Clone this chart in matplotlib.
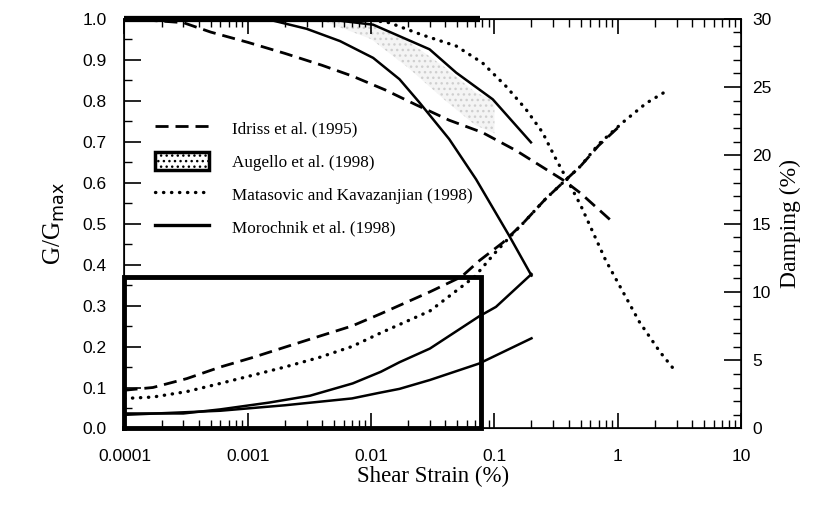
import matplotlib
matplotlib.use('Agg')
import matplotlib.pyplot as plt
from matplotlib.lines import Line2D
from matplotlib.patches import Patch
from matplotlib.ticker import LogLocator, MultipleLocator, FixedLocator, FixedFormatter

# ---- data ----
# shear strain (%) and G/Gmax
idriss_g_x = [0.0001, 0.0003, 0.0005, 0.001, 0.002, 0.004, 0.007, 0.013, 0.023,
              0.043, 0.08, 0.15, 0.26, 0.37, 0.5, 0.9]
idriss_g = [1.0, 0.99, 0.967, 0.942, 0.915, 0.886, 0.86, 0.826, 0.79,
            0.752, 0.722, 0.678, 0.633, 0.604, 0.574, 0.505]

matasovic_g_x = [0.0001, 0.008, 0.014, 0.026, 0.049, 0.08, 0.124, 0.18, 0.246,
                 0.306, 0.4, 0.5, 0.8, 1.5, 2.2, 2.9]
matasovic_g = [1.0, 1.0, 0.99, 0.96, 0.933, 0.892, 0.835, 0.779, 0.722,
               0.665, 0.6, 0.545, 0.41, 0.26, 0.187, 0.142]

morochnik_g_lo_x = [0.0001, 0.0016, 0.003, 0.0056, 0.0104, 0.017, 0.0247,
                    0.043, 0.071, 0.132, 0.2]
morochnik_g_lo = [1.0, 0.995, 0.975, 0.945, 0.904, 0.852, 0.795,
                  0.706, 0.608, 0.47, 0.373]

morochnik_g_hi_x = [0.0001, 0.004, 0.0104, 0.0298, 0.049, 0.097, 0.198]
morochnik_g_hi = [1.0, 1.0, 0.985, 0.925, 0.868, 0.803, 0.698]

augello_x = [0.004, 0.01, 0.02, 0.04, 0.07, 0.1]
augello_hi = [1.0, 0.985, 0.945, 0.88, 0.82, 0.80]
augello_lo = [0.995, 0.95, 0.88, 0.80, 0.74, 0.72]
augello_top_x = [0.0001, 0.077]
augello_top_g = [1.0, 1.0]
augello_box_x = [0.0001, 0.078]
augello_box_g = [0.0, 0.37]

# shear strain (%) and damping (%)
idriss_d_x = [0.0001, 0.00017, 0.00032, 0.0006, 0.0011, 0.002, 0.0038, 0.007,
              0.012, 0.03, 0.054, 0.076, 0.117, 0.17, 0.26, 0.37, 0.5, 0.7, 1.0]
idriss_d = [2.8, 3.0, 3.65, 4.5, 5.2, 5.95, 6.75, 7.5,
            8.4, 10.0, 11.1, 12.3, 13.6, 15.0, 16.8, 18.1, 19.2, 20.7, 22.0]

matasovic_d_x = [0.0001, 0.00017, 0.00032, 0.0006, 0.0011, 0.002, 0.0038, 0.007,
                 0.012, 0.03, 0.069, 0.1, 0.136, 0.17, 0.26, 0.37, 0.5, 0.7,
                 1.1, 1.7, 2.6]
matasovic_d = [2.2, 2.3, 2.7, 3.3, 3.9, 4.5, 5.2, 6.0,
               7.0, 8.6, 11.1, 12.8, 14.1, 15.0, 16.8, 18.1, 19.2, 20.8,
               22.4, 23.8, 24.8]

morochnik_d_hi_x = [0.0001, 0.0003, 0.0006, 0.0015, 0.0032, 0.0071, 0.012,
                    0.017, 0.03, 0.075, 0.103, 0.2]
morochnik_d_hi = [1.1, 1.1, 1.4, 1.9, 2.4, 3.3, 4.15, 4.85, 5.85, 8.2, 8.9, 11.3]

morochnik_d_lo_x = [0.0001, 0.0006, 0.002, 0.007, 0.0115, 0.017, 0.03, 0.075, 0.2]
morochnik_d_lo = [1.0, 1.3, 1.7, 2.2, 2.6, 2.9, 3.55, 4.75, 6.6]

x_ticks = [0.0001, 0.001, 0.01, 0.1, 1, 10]
x_labels = ['0.0001', '0.001', '0.01', '0.1', '1', '10']

# ---- styles ----
serif = ['Liberation Serif', 'DejaVu Serif']
sans = ['Liberation Sans', 'DejaVu Sans']
dash = (0, (4.7, 2.5))
dot = (0, (0.1, 2.3))
LW_DASH, LW_DOT, LW_SOLID = 2.0, 2.4, 1.8

fig = plt.figure(figsize=(8.27, 5.08), dpi=100)
ax = fig.add_axes([0.1505, 0.1565, 0.7455, 0.807])
ax2 = ax.twinx()

# G/Gmax curves
ax.fill_between(augello_x, augello_lo, augello_hi, facecolor='#f4f4f4',
                edgecolor='#cfcfcf', hatch='...', linewidth=0)
ax.plot(idriss_g_x, idriss_g, color='black', lw=LW_DASH, linestyle=dash)
ax.plot(matasovic_g_x, matasovic_g, color='black', lw=LW_DOT, linestyle=dot,
        dash_capstyle='round')
ax.plot(morochnik_g_lo_x, morochnik_g_lo, color='black', lw=LW_SOLID)
ax.plot(morochnik_g_hi_x, morochnik_g_hi, color='black', lw=LW_SOLID)
ax.plot(augello_top_x, augello_top_g, color='black', lw=4.5, clip_on=False,
        solid_capstyle='butt')
bx0, bx1 = augello_box_x
by0, by1 = augello_box_g
ax.plot([bx0, bx1, bx1, bx0, bx0], [by0, by0, by1, by1, by0], color='black',
        lw=3.5, clip_on=False, solid_joinstyle='miter')

# damping curves
ax2.plot(idriss_d_x, idriss_d, color='black', lw=LW_DASH, linestyle=dash)
ax2.plot(matasovic_d_x, matasovic_d, color='black', lw=LW_DOT, linestyle=dot,
         dash_capstyle='round')
ax2.plot(morochnik_d_hi_x, morochnik_d_hi, color='black', lw=LW_SOLID)
ax2.plot(morochnik_d_lo_x, morochnik_d_lo, color='black', lw=LW_SOLID)

ax.set_xscale('log')
ax.set_xlim(0.0001, 10)
ax.set_ylim(0, 1.0)
ax2.set_ylim(0, 30)

ax.xaxis.set_major_locator(FixedLocator(x_ticks))
ax.xaxis.set_major_formatter(FixedFormatter(x_labels))
ax.xaxis.set_minor_locator(LogLocator(base=10, subs=range(2, 10)))
ax.set_yticks([i / 10 for i in range(11)])
ax.set_yticklabels(['%.1f' % (i / 10) for i in range(11)])
ax.yaxis.set_minor_locator(MultipleLocator(0.05))
ax2.yaxis.set_major_locator(MultipleLocator(5))
ax2.yaxis.set_minor_locator(MultipleLocator(1))

ax.tick_params(axis='x', which='both', direction='in', top=True, pad=15)
ax.tick_params(axis='x', which='major', length=11, width=1.2)
ax.tick_params(axis='x', which='minor', length=5.5, width=1.0)
ax.tick_params(axis='y', which='major', direction='in', length=12, width=1.2, pad=13)
ax.tick_params(axis='y', which='minor', direction='in', length=6, width=1.0)
ax2.tick_params(axis='y', which='major', direction='in', length=12, width=1.2, pad=8)
ax2.tick_params(axis='y', which='minor', direction='in', length=6, width=1.0)

for lab in ax.get_xticklabels() + ax.get_yticklabels() + ax2.get_yticklabels():
    lab.set_family(sans)
    lab.set_fontsize(12.5)

for sp in ax.spines.values():
    sp.set_linewidth(1.2)

ax.set_xlabel('Shear Strain (%)', family=serif, fontsize=16.5, labelpad=1)
ax.set_ylabel('G/G$_{\\mathrm{max}}$', family=serif, fontsize=18, labelpad=11)
ax2.set_ylabel('Damping (%)', family=serif, fontsize=17, labelpad=6)

handles = [
    Line2D([], [], color='black', lw=LW_DASH, linestyle=dash),
    Patch(facecolor='white', edgecolor='black', linewidth=2.5, hatch='...'),
    Line2D([], [], color='black', lw=LW_DOT, linestyle=dot, dash_capstyle='round'),
    Line2D([], [], color='black', lw=2.4),
]
labels = ['Idriss et al. (1995)', 'Augello et al. (1998)',
          'Matasovic and Kavazanjian (1998)', 'Morochnik et al. (1998)']
ax.legend(handles, labels, loc='upper left', bbox_to_anchor=(0.049, 0.755),
          frameon=False, prop={'family': serif, 'size': 12.3},
          handlelength=3.2, handleheight=1.2, handletextpad=1.35,
          labelspacing=0.85, borderpad=0, borderaxespad=0)

fig.savefig('out.png', dpi=100)
